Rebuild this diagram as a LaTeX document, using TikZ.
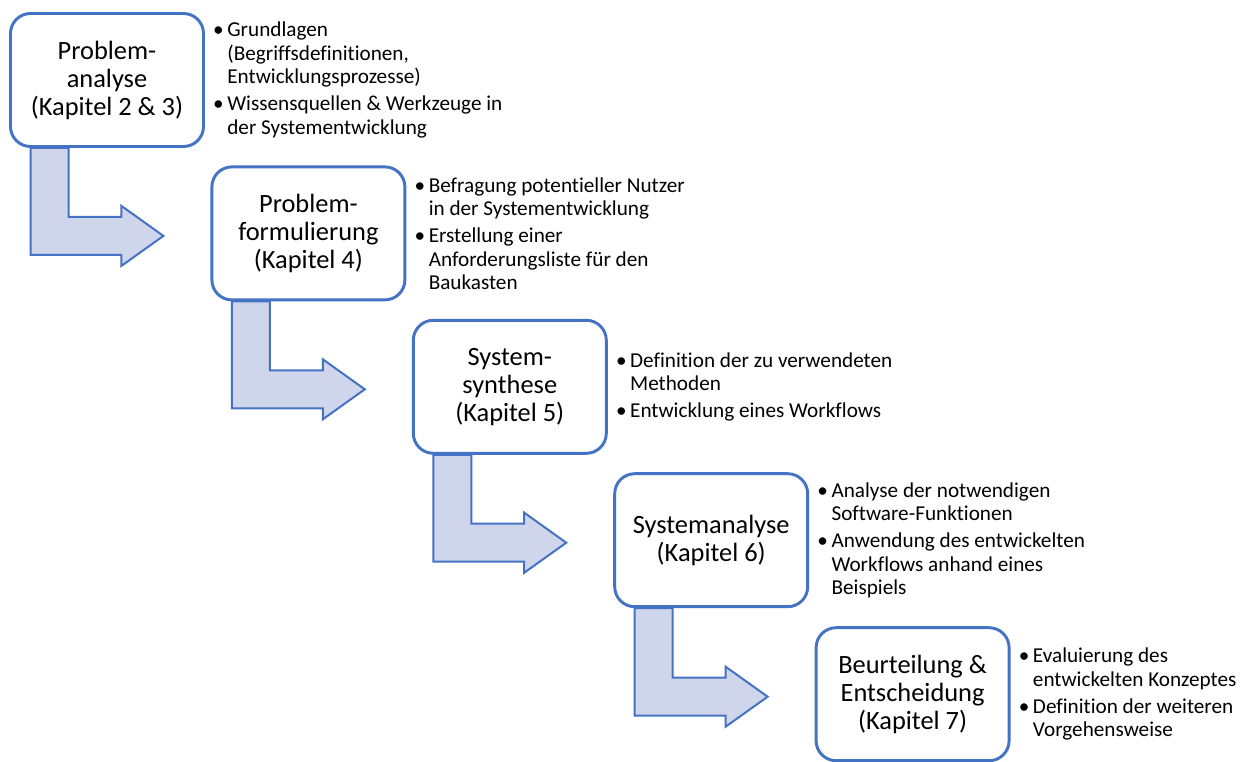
\documentclass[tikz,border=0pt]{standalone}
\usepackage{fontspec}
\setmainfont{Carlito}[Ligatures=NoCommon]
\usetikzlibrary{calc,backgrounds}
\definecolor{frame}{HTML}{4472C4}
\definecolor{arrowfill}{HTML}{CFD5EA}
\newlength\bulw
\setlength\bulw{10.6pt}
\newcommand\bitem[1]{\makebox[\bulw][l]{•}#1}
\newcommand\bcont[1]{\hspace*{\bulw}#1}

\begin{document}
\begin{tikzpicture}[x=0.75pt,y=-0.75pt,
  stage/.style={draw=frame, line width=2.2pt, fill=white, rounded corners=15pt,
    minimum width=144.75pt, minimum height=99.75pt, align=center, inner sep=0pt,
    font=\fontsize{19.8pt}{21pt}\selectfont},
  notes/.style={anchor=west, align=left, inner sep=0pt,
    font=\fontsize{15.9pt}{17.5pt}\selectfont},
  blockarrow/.style={draw=frame, line width=1.5pt, fill=arrowfill, line join=miter}]
\useasboundingbox (0,0) rectangle (1243,761);

% stages of the procedure
\node[stage] (s1) at (107,80)      {Problem-\\analyse\\(Kapitel 2 \& 3)};
\node[stage] (s2) at (308.4,233.4) {Problem-\\formulierung\\(Kapitel 4)};
\node[stage] (s3) at (509.8,386.8) {System-\\synthese\\(Kapitel 5)};
\node[stage] (s4) at (711.2,540.2) {Systemanalyse\\(Kapitel 6)};
\node[stage] (s5) at (912.6,694.2) {Beurteilung \&\\Entscheidung\\(Kapitel 7)};

% bent block arrows from each stage to the next
\begin{scope}[on background layer]
\foreach \a/\b in {s1/s2,s2/s3,s3/s4,s4/s5}{
  \coordinate (T) at ($(\b.west)+(-47,2.5)$);
  \draw[blockarrow] ($(\a.south west)+(21.5,0)$) -- ($(\a.south west)+(59.5,0)$)
    |- ($(T)+(-42,-19)$) -- ($(T)+(-42,-30)$) -- (T) -- ($(T)+(-42,30)$)
    -- ($(T)+(-42,19)$) -| ($(\a.south west)+(21.5,0)$) -- cycle;
}
\end{scope}

% notes beside each stage
\node[notes] (n1) at ($(s1.east)+(8,0)$) {\bitem{Grundlagen}\\\bcont{(Begriffsdefinitionen,}\\\bcont{Entwicklungsprozesse)}\\[3pt]\bitem{Wissensquellen \& Werkzeuge in}\\\bcont{der Systementwicklung}};
\node[notes] (n2) at ($(s2.east)+(8,0)$) {\bitem{Befragung potentieller Nutzer}\\\bcont{in der Systementwicklung}\\[3pt]\bitem{Erstellung einer}\\\bcont{Anforderungsliste für den}\\\bcont{Baukasten}};
\node[notes] (n3) at ($(s3.east)+(8,0)$) {\bitem{Definition der zu verwendeten}\\\bcont{Methoden}\\[3pt]\bitem{Entwicklung eines Workflows}};
\node[notes] (n4) at ($(s4.east)+(8,0)$) {\bitem{Analyse der notwendigen}\\\bcont{Software-Funktionen}\\[3pt]\bitem{Anwendung des entwickelten}\\\bcont{Workflows anhand eines}\\\bcont{Beispiels}};
\node[notes] (n5) at ($(s5.east)+(8,0)$) {\bitem{Evaluierung des}\\\bcont{entwickelten Konzeptes}\\[3pt]\bitem{Definition der weiteren}\\\bcont{Vorgehensweise}};
\end{tikzpicture}
\end{document}
